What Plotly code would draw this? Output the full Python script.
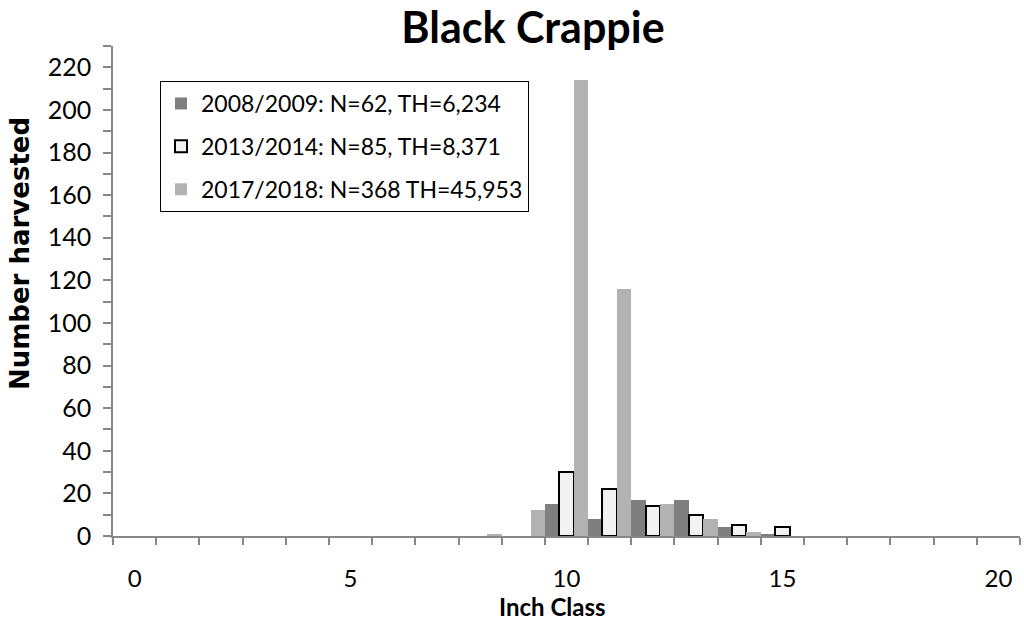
import plotly.graph_objects as go

inch_class = list(range(0, 21))
s2008 = [0,0,0,0,0,0,0,0,0,0,15,8,17,17,4,1,0,0,0,0,0]
s2013 = [0,0,0,0,0,0,0,0,0,0,30,22,14,10,5,4,0,0,0,0,0]
s2017 = [0,0,0,0,0,0,0,0,1,12,214,116,15,8,2,0,0,0,0,0,0]
names = ["2008/2009: N=62, TH=6,234", "2013/2014: N=85, TH=8,371", "2017/2018: N=368 TH=45,953"]
x_ticks = [0, 5, 10, 15, 20]
y_ticks = list(range(0, 221, 20))

FONT = "Lato, Open Sans, sans-serif"
AXIS_GREY = "#878787"
W, H = 1024, 624
PL, PR, PT, PB = 113, 1020, 46, 536  # plot area in page px


def px_x(sx):
    return (sx - PL) / (PR - PL)


def px_y(sy):
    return 1 - (sy - PT) / (PB - PT)


fig = go.Figure()
fig.add_trace(go.Bar(x=inch_class, y=s2008, name=names[0], legendgroup="a",
                     marker=dict(color="#7f7f7f", line=dict(width=0))))
fig.add_trace(go.Bar(x=inch_class, y=[v if v > 0 else None for v in s2013],
                     name=names[1], legendgroup="b",
                     marker=dict(color="#f2f2f2", line=dict(color="black", width=2))))
fig.add_trace(go.Bar(x=inch_class, y=s2017, name=names[2], legendgroup="c",
                     marker=dict(color="#b2b2b2", line=dict(width=0))))

fig.update_layout(
    width=W, height=H,
    margin=dict(l=PL, r=W - PR, t=PT, b=H - PB),
    paper_bgcolor="white", plot_bgcolor="white",
    barmode="group", bargap=0, bargroupgap=0,
    font=dict(family=FONT, size=23, color="black"),
    title=dict(text="<b>Black Crappie</b>", font=dict(size=43, color="black"),
               x=533 / W, xanchor="center", y=1 - 28 / H, yanchor="middle"),
    legend=dict(x=px_x(160), y=px_y(81), xanchor="left", yanchor="top",
                bgcolor="white", bordercolor="black", borderwidth=1,
                font=dict(size=23), tracegroupgap=10, traceorder="grouped",
                itemwidth=30),
    showlegend=True,
    annotations=[
        dict(text="<b>Inch Class</b>", xref="paper", yref="paper",
             x=px_x(552), y=px_y(606), xanchor="center", yanchor="middle",
             showarrow=False, font=dict(size=24, family=FONT)),
        dict(text="<b>Number harvested</b>", xref="paper", yref="paper",
             x=px_x(20), y=px_y(254), xanchor="center", yanchor="middle",
             textangle=-90, showarrow=False,
             font=dict(size=26, family="DejaVu Sans, sans-serif")),
    ],
)
fig.update_xaxes(
    range=[-0.5, 20.5], tickmode="array", tickvals=x_ticks, automargin=False,
    ticks="outside", ticklen=0, showline=True, linecolor=AXIS_GREY, linewidth=1.5,
    showgrid=False, zeroline=False, tickfont=dict(size=24), ticklabelstandoff=20,
    minor=dict(tickmode="array", tickvals=[i - 0.5 for i in range(22)],
               ticks="outside", ticklen=7, tickcolor=AXIS_GREY, tickwidth=1.5, showgrid=False),
)
fig.update_yaxes(
    range=[0, 230], tickmode="array", tickvals=y_ticks, automargin=False,
    ticks="outside", ticklen=8, tickcolor=AXIS_GREY, tickwidth=1.5,
    showline=True, linecolor=AXIS_GREY, linewidth=1.5,
    showgrid=False, zeroline=False, tickfont=dict(size=25), ticklabelstandoff=7,
    minor=dict(tickmode="array", tickvals=list(range(10, 231, 20)),
               ticks="outside", ticklen=8, tickcolor=AXIS_GREY, tickwidth=1.5, showgrid=False),
)
fig.write_html("out.html", config={"displayModeBar": False},
               post_script="document.body.style.margin='0';")
